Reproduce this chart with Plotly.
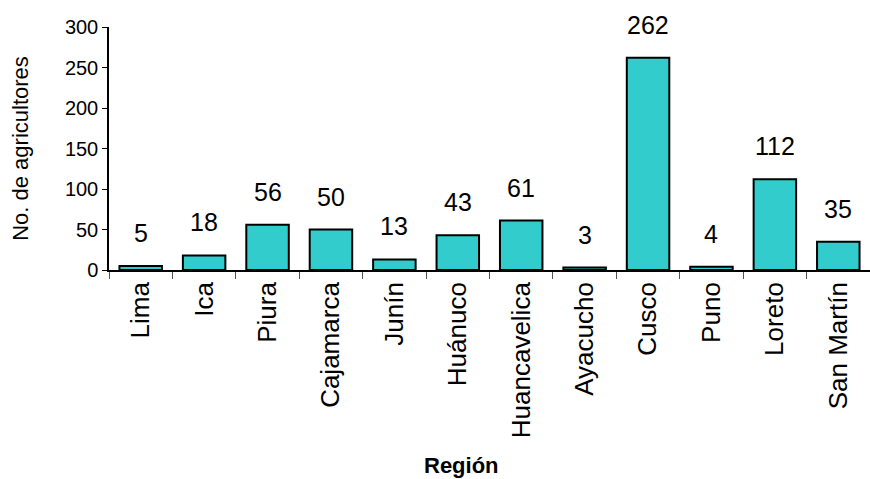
import plotly.graph_objects as go

regiones = ["Lima", "Ica", "Piura", "Cajamarca", "Junín", "Huánuco", "Huancavelica",
            "Ayacucho", "Cusco", "Puno", "Loreto", "San Martín"]
agricultores = [5, 18, 56, 50, 13, 43, 61, 3, 262, 4, 112, 35]
y_ticks = [0, 50, 100, 150, 200, 250, 300]

font_family = "Liberation Sans, Arial, sans-serif"

fig = go.Figure()
fig.add_trace(go.Bar(
    x=regiones, y=agricultores,
    marker=dict(color="#33CCCC", line=dict(color="black", width=2)),
))

for r, v in zip(regiones, agricultores):
    fig.add_annotation(x=r, y=v, text=str(v), showarrow=False,
                       yanchor="middle", yshift=33,
                       font=dict(family=font_family, size=25, color="black"))

fig.add_annotation(text="<b>Región</b>", xref="paper", yref="paper",
                   x=(461 - 109) / 761, y=-(465 - 270) / 243,
                   xanchor="center", yanchor="middle", showarrow=False,
                   font=dict(family=font_family, size=22, color="black"))

fig.update_layout(
    width=870, height=479,
    margin=dict(l=109, r=0, t=27, b=209),
    paper_bgcolor="white", plot_bgcolor="white",
    bargap=0.33, showlegend=False,
    font=dict(family=font_family, color="black"),
)
fig.update_xaxes(
    showline=True, linecolor="black", linewidth=1.5,
    ticks="outside", tickson="boundaries", ticklen=7, tickcolor="#555",
    tickangle=-90, tickfont=dict(size=26),
    showgrid=False,
)
fig.update_yaxes(
    range=[0, 300], tickvals=y_ticks, showline=True, linecolor="black", linewidth=1.5,
    ticks="outside", ticklen=5, tickcolor="black", tickfont=dict(size=20),
    title=dict(text="No. de agricultores", font=dict(size=22), standoff=30),
    showgrid=False, zeroline=False,
)

fig.write_html("out.html")
